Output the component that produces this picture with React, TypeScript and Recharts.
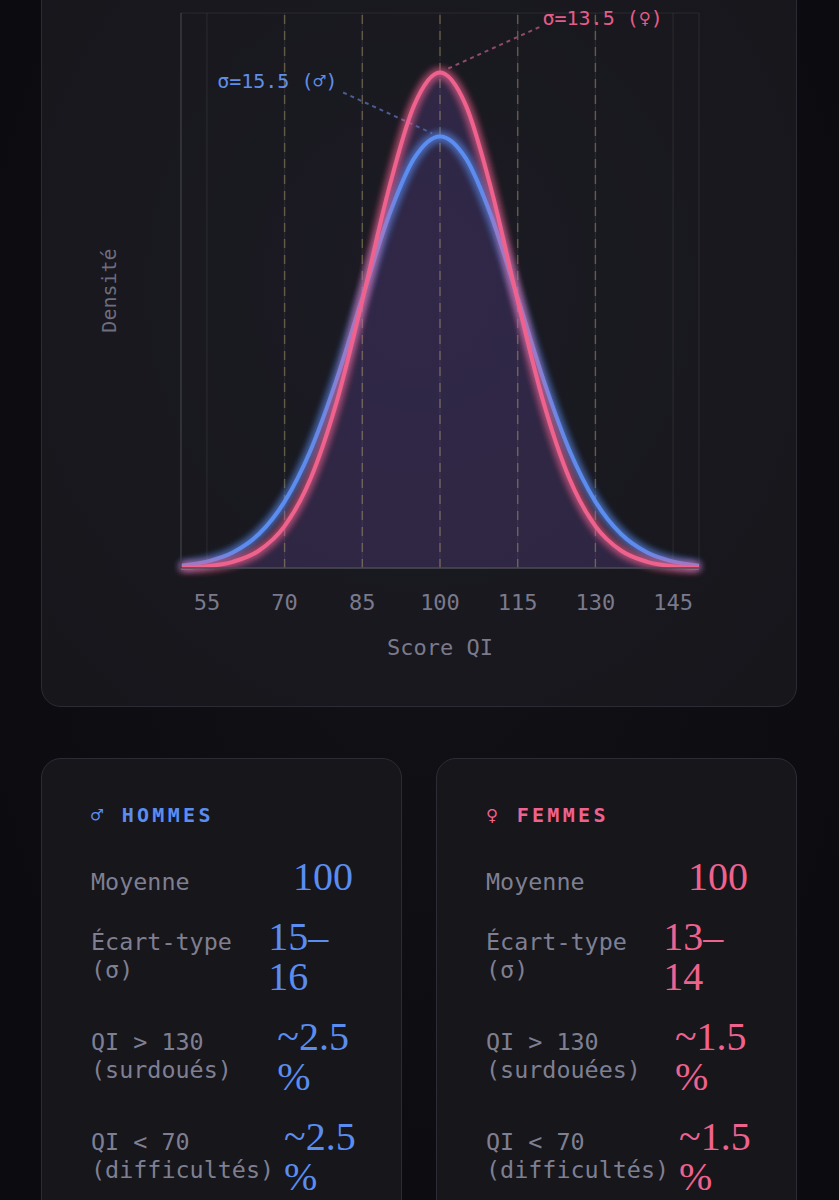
import React from 'react';
import {
  ComposedChart,
  Line,
  Area,
  XAxis,
  YAxis,
  CartesianGrid,
  ReferenceLine,
  ReferenceDot,
} from 'recharts';

// ---- data ----
const xValues = [50, 55, 60, 65, 70, 75, 80, 85, 90, 95, 100, 105, 110, 115, 120, 125, 130, 135, 140, 145, 150];
const maleDensity = [0.00014, 0.00038, 0.00092, 0.00201, 0.00396, 0.00701, 0.0112, 0.01611, 0.0209, 0.02443, 0.02574, 0.02443, 0.0209, 0.01611, 0.0112, 0.00701, 0.00396, 0.00201, 0.00092, 0.00038, 0.00014];
const femaleDensity = [0.00003, 0.00011, 0.00037, 0.00103, 0.0025, 0.00532, 0.00986, 0.01594, 0.02246, 0.02759, 0.02955, 0.02759, 0.02246, 0.01594, 0.00986, 0.00532, 0.0025, 0.00103, 0.00037, 0.00011, 0.00003];
const xTicks = [55, 70, 85, 100, 115, 130, 145];
const sigmaLines = [70, 85, 100, 115, 130];
const yTicks = [0, 0.008275, 0.01655, 0.024825, 0.0331];
const xDomain = [50, 150];
const yDomain = [0, 0.0331];

const maleNote = { text: 'σ=15.5 (♂)', x: 68.6, y: 0.02907 };
const femaleNote = { text: 'σ=13.5 (♀)', x: 131.4, y: 0.03283 };
const maleNoteSegment = [{ x: 81.3, y: 0.02836 }, { x: 98.5, y: 0.02592 }];
const femaleNoteSegment = [{ x: 101.6, y: 0.02979 }, { x: 119.4, y: 0.03229 }];

const maleTitle = '♂ HOMMES';
const femaleTitle = '♀ FEMMES';
const maleLabels = ['Moyenne', 'Écart-type (σ)', 'QI > 130 (surdoués)', 'QI < 70 (difficultés)'];
const femaleLabels = ['Moyenne', 'Écart-type (σ)', 'QI > 130 (surdouées)', 'QI < 70 (difficultés)'];
const maleValues = ['100', '15–16', '~2.5 %', '~2.5 %'];
const femaleValues = ['100', '13–14', '~1.5 %', '~1.5 %'];

const data = xValues.map((x, i) => ({ x, male: maleDensity[i], female: femaleDensity[i] }));

const BLUE = '#5b8df0';
const PINK = '#f0628e';
const MONO = '"DejaVu Sans Mono", monospace';
const SERIF = '"Liberation Serif", serif';

const renderXLabel = (props: any) => {
  const vb = props.viewBox || {};
  return (
    <text x={vb.x + vb.width / 2} y={vb.y + 87} textAnchor="middle" fill="#7a7a8c" fontSize={22} fontFamily={MONO}>
      Score QI
    </text>
  );
};

const renderYLabel = (props: any) => {
  const vb = props.viewBox || {};
  const cx = vb.x + vb.width - 64.7;
  const cy = vb.y + vb.height / 2;
  return (
    <text x={cx} y={cy} textAnchor="middle" fill="#6e6e80" fontSize={20} fontFamily={MONO} transform={`rotate(-90 ${cx} ${cy})`}>
      Densité
    </text>
  );
};

function StatCard({ left, title, color, labels, values }: any) {
  return (
    <div
      style={{
        position: 'absolute',
        left,
        top: 758,
        width: 361,
        height: 520,
        boxSizing: 'border-box',
        border: '1px solid #2c2c37',
        borderRadius: 20,
        background: '#16161b',
        padding: '44px 48px 0 49px',
      }}
    >
      <div style={{ fontFamily: MONO, fontSize: 20, fontWeight: 'bold', letterSpacing: 3.3, color, lineHeight: '24px', height: 24 }}>
        {title}
      </div>
      <div style={{ height: 30 }} />
      {labels.map((l: string, i: number) => (
        <div
          key={i}
          style={{
            display: 'flex',
            justifyContent: 'space-between',
            alignItems: 'baseline',
            gap: 10,
            marginBottom: 20,
          }}
        >
          <div style={{ fontFamily: MONO, fontSize: 23.4, lineHeight: '28px', color: '#7f7f92' }}>{l}</div>
          <div style={{ fontFamily: SERIF, fontSize: 40, lineHeight: '40px', color }}>{values[i]}</div>
        </div>
      ))}
    </div>
  );
}

export default function App() {
  return (
    <div
      style={{
        position: 'absolute',
        left: 0,
        top: 0,
        width: 839,
        height: 1200,
        overflow: 'hidden',
        background: 'radial-gradient(ellipse at 50% 40%, #121217 0%, #0c0c10 80%)',
      }}
    >
      <div
        style={{
          position: 'absolute',
          left: 41,
          top: -60,
          width: 756,
          height: 767,
          boxSizing: 'border-box',
          border: '1px solid #2b2b36',
          borderRadius: 20,
          background: 'radial-gradient(ellipse at 50% 45%, #1c1b24 0%, #18181e 60%, #16161b 100%)',
        }}
      />
      <div style={{ position: 'absolute', left: 41, top: 0 }}>
        <ComposedChart width={756} height={688} data={data} margin={{ top: 13, right: 98, left: 80, bottom: 20 }}>
          <defs>
            <filter id="glowPink" x="-20%" y="-20%" width="140%" height="140%">
              <feGaussianBlur in="SourceGraphic" stdDeviation="4" result="blur" />
              <feMerge>
                <feMergeNode in="blur" />
                <feMergeNode in="blur" />
                <feMergeNode in="SourceGraphic" />
              </feMerge>
            </filter>
            <filter id="glowBlue" x="-20%" y="-20%" width="140%" height="140%">
              <feGaussianBlur in="SourceGraphic" stdDeviation="4" result="blur" />
              <feMerge>
                <feMergeNode in="blur" />
                <feMergeNode in="blur" />
                <feMergeNode in="SourceGraphic" />
              </feMerge>
            </filter>
          </defs>
          <CartesianGrid stroke="rgba(255,255,255,0.07)" strokeWidth={1.2} />
          <XAxis
            dataKey="x"
            type="number"
            domain={xDomain}
            ticks={xTicks}
            tickLine={false}
            tickSize={0}
            tickMargin={26}
            height={100}
            axisLine={{ stroke: '#4a4a55', strokeWidth: 1.5 }}
            tick={{ fill: '#7a7a8c', fontSize: 22, fontFamily: MONO }}
            label={renderXLabel}
          />
          <YAxis
            type="number"
            domain={yDomain}
            ticks={yTicks}
            tick={false}
            tickLine={false}
            width={60}
            axisLine={{ stroke: '#3c3c47', strokeWidth: 1.2 }}
            label={renderYLabel}
          />
          <Area type="monotone" dataKey="female" stroke="none" fill="#8860d6" fillOpacity={0.2} isAnimationActive={false} />
          {sigmaLines.map((v) => (
            <ReferenceLine key={v} x={v} stroke="rgba(220,200,120,0.32)" strokeWidth={1.5} strokeDasharray="9 7" />
          ))}
          <ReferenceLine segment={maleNoteSegment} stroke="#4c5c92" strokeWidth={2} strokeDasharray="4 4" />
          <ReferenceLine segment={femaleNoteSegment} stroke="#8e4b6c" strokeWidth={2} strokeDasharray="4 4" />
          <Line type="monotone" dataKey="male" stroke={BLUE} strokeWidth={4} dot={false} activeDot={false} filter="url(#glowBlue)" isAnimationActive={false} />
          <Line type="monotone" dataKey="female" stroke={PINK} strokeWidth={4} dot={false} activeDot={false} filter="url(#glowPink)" isAnimationActive={false} />
          <ReferenceDot
            x={maleNote.x}
            y={maleNote.y}
            r={1}
            fill="none"
            stroke="none"
            label={{ value: maleNote.text, position: 'center', fill: '#5f8ee8', fontSize: 20, fontFamily: MONO }}
          />
          <ReferenceDot
            x={femaleNote.x}
            y={femaleNote.y}
            r={1}
            fill="none"
            stroke="none"
            label={{ value: femaleNote.text, position: 'center', fill: '#e65c88', fontSize: 20, fontFamily: MONO }}
          />
        </ComposedChart>
      </div>
      <StatCard left={41} title={maleTitle} color={BLUE} labels={maleLabels} values={maleValues} />
      <StatCard left={436} title={femaleTitle} color={PINK} labels={femaleLabels} values={femaleValues} />
    </div>
  );
}
